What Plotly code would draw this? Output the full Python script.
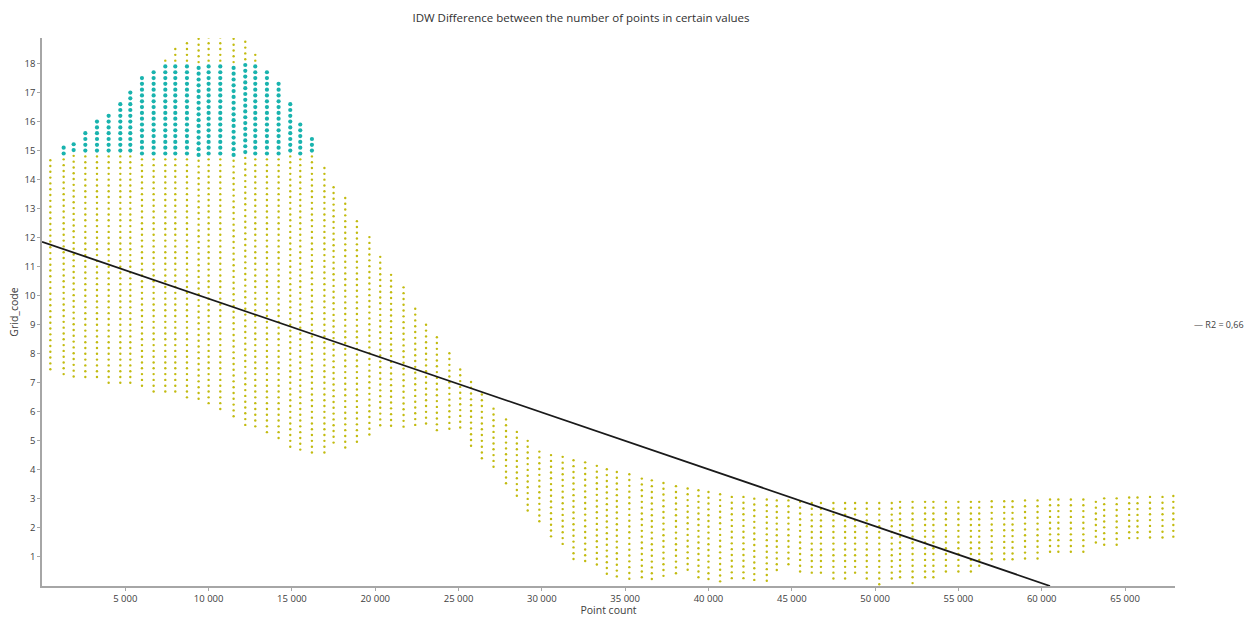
import numpy as np
import plotly.graph_objects as go

# Point count of each sample column and the Grid_code span it covers
col_x = [500, 1300, 1900, 2600, 3300, 4000, 4700, 5300, 6000, 6700,
         7400, 8000, 8700, 9400, 10000, 10700, 11500, 12200, 12800, 13500,
         14200, 14900, 15500, 16200, 16950, 17500, 18200, 18900, 19650, 20300,
         20950, 21700, 22400, 23050, 23700, 24450, 25100, 25750, 26400, 27100,
         27850, 28500, 29150, 29850, 30550, 31250, 31900, 32600, 33300, 33900,
         34500, 35250, 36000, 36600, 37300, 38050, 38750, 39400, 40000, 40700,
         41400, 42100, 42750, 43500, 44100, 44800, 45500, 46200, 46750, 47500,
         48200, 48800, 49500, 50250, 51000, 51500, 52250, 53000, 53500, 54250,
         55000, 55750, 56250, 57000, 57750, 58250, 59000, 59750, 60500, 61000,
         61750, 62500, 63250, 63750, 64500, 65250, 65750, 66500, 67250, 67900]
col_high = [14.67, 15.1, 15.22, 15.6, 16.0, 16.2, 16.6, 17.0, 17.5, 17.7,
            18.1, 18.5, 18.7, 18.85, 18.9, 18.9, 18.85, 18.75, 18.3, 17.7,
            17.3, 16.6, 15.9, 15.4, 14.4, 13.74, 13.37, 12.57, 12.02, 11.34,
            10.72, 10.29, 9.55, 9.0, 8.57, 8.02, 7.46, 7.03, 6.6, 6.11,
            5.74, 5.31, 5.0, 4.63, 4.51, 4.45, 4.33, 4.26, 4.14, 4.02,
            3.93, 3.85, 3.70, 3.64, 3.55, 3.44, 3.36, 3.30, 3.24, 3.16,
            3.07, 3.07, 3.01, 2.98, 2.95, 2.95, 2.90, 2.86, 2.86, 2.86,
            2.86, 2.86, 2.86, 2.86, 2.86, 2.90, 2.90, 2.90, 2.90, 2.90,
            2.90, 2.90, 2.90, 2.92, 2.92, 2.92, 2.95, 2.95, 2.98, 2.98,
            2.98, 2.98, 2.90, 3.02, 3.02, 3.05, 3.05, 3.07, 3.07, 3.10]
col_low = [7.28, 7.24, 7.22, 7.18, 7.03, 6.99, 6.91, 6.85, 6.79, 6.70,
           6.63, 6.60, 6.50, 6.35, 6.29, 6.08, 5.71, 5.47, 5.31, 5.12,
           4.94, 4.73, 4.57, 4.57, 4.57, 4.75, 4.75, 4.94, 5.12, 5.49,
           5.37, 5.49, 5.49, 5.43, 5.37, 5.31, 5.31, 4.75, 4.39, 3.95,
           3.40, 3.09, 2.41, 2.04, 1.67, 1.30, 0.93, 0.69, 0.57, 0.32,
           0.14, 0.14, 0.14, 0.20, 0.20, 0.37, 0.54, 0.26, 0.20, 0.14,
           0.14, 0.26, 0.20, 0.10, 0.43, 0.60, 0.37, 0.31, 0.31, 0.20,
           0.20, 0.37, 0.26, 0.03, 0.08, 0.20, 0.03, 0.20, 0.20, 0.37,
           0.37, 0.40, 0.56, 0.77, 0.77, 0.77, 0.94, 0.94, 1.11, 1.14,
           1.14, 1.14, 1.32, 1.34, 1.34, 1.51, 1.51, 1.51, 1.57, 1.69]

GRID_STEP = 0.2            # spacing of Grid_code values inside a column
HIGHLIGHT = (14.85, 18.02)  # Grid_code band shown in teal

# Linear fit endpoints
trend_x = [0, 60500]
trend_y = [11.86, 0.0]
trend_name = "R2 = 0,66"

x_ticks = [5000, 10000, 15000, 20000, 25000, 30000, 35000, 40000, 45000,
           50000, 55000, 60000, 65000]
x_ticktext = ["5 000", "10 000", "15 000", "20 000", "25 000", "30 000",
              "35 000", "40 000", "45 000", "50 000", "55 000", "60 000",
              "65 000"]
y_ticks = list(range(1, 19))

# Expand each column into its individual points
px_o, py_o, px_t, py_t = [], [], [], []
for cx, lo, hi in zip(col_x, col_low, col_high):
    n = int(np.floor((hi - lo) / GRID_STEP + 1e-6)) + 1
    ys = hi - GRID_STEP * np.arange(n)
    for v in ys:
        if HIGHLIGHT[0] <= v <= HIGHLIGHT[1]:
            px_t.append(cx); py_t.append(v)
        else:
            px_o.append(cx); py_o.append(v)

fig = go.Figure()
fig.add_trace(go.Scatter(
    x=px_o, y=py_o, mode="markers", showlegend=False,
    marker=dict(size=2.4, color="#c2bb10", line=dict(width=0))))
fig.add_trace(go.Scatter(
    x=px_t, y=py_t, mode="markers", showlegend=False,
    marker=dict(size=4.2, color="#19b3ae", line=dict(width=0))))
fig.add_trace(go.Scatter(
    x=trend_x, y=trend_y, mode="lines", name=trend_name, showlegend=False,
    line=dict(color="#1a1a1a", width=1.8)))

fig.add_annotation(
    xref="paper", yref="paper", x=1.015, y=0.478, xanchor="left",
    yanchor="middle", showarrow=False, text="— " + trend_name,
    font=dict(size=9, color="#404040"))

axis_font = dict(family="Open Sans", size=9.5, color="#404040")
fig.update_layout(
    width=1247, height=617,
    margin=dict(l=42, r=72, t=38, b=31),
    paper_bgcolor="white", plot_bgcolor="white",
    font=dict(family="Open Sans", color="#404040"),
    title=dict(text="IDW Difference between the number of points in certain values",
               x=581 / 1247, xanchor="center", y=1 - 18 / 617, yref="container",
               yanchor="middle", font=dict(size=11.5, color="#303030")),
    xaxis=dict(range=[0, 68000], tickvals=x_ticks, ticktext=x_ticktext,
               showgrid=False, zeroline=False, showline=True, automargin=False,
               linecolor="#a6a6a6", linewidth=1.5, ticks="outside",
               ticklen=3, tickcolor="#a6a6a6", tickfont=axis_font,
               title=dict(text="Point count", standoff=5,
                          font=dict(size=10.5, color="#404040"))),
    yaxis=dict(range=[0, 18.88], tickvals=y_ticks,
               showgrid=False, zeroline=False, showline=True, automargin=False,
               linecolor="#a6a6a6", linewidth=1.5, ticks="outside",
               ticklen=3, tickcolor="#a6a6a6", tickfont=axis_font,
               title=dict(text="Grid_code", standoff=4,
                          font=dict(size=10.5, color="#404040"))),
)

fig.write_html("out.html")
